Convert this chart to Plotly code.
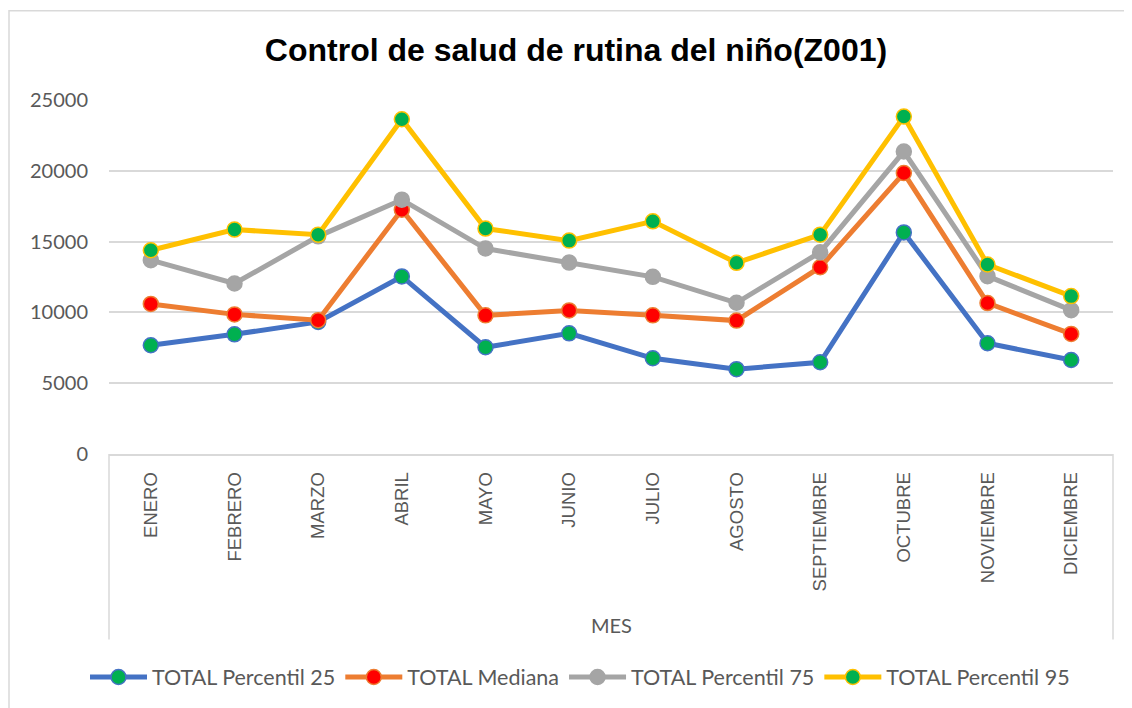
import plotly.graph_objects as go

meses = ["ENERO", "FEBRERO", "MARZO", "ABRIL", "MAYO", "JUNIO", "JULIO",
         "AGOSTO", "SEPTIEMBRE", "OCTUBRE", "NOVIEMBRE", "DICIEMBRE"]
p25 = [7680, 8450, 9330, 12540, 7540, 8520, 6760, 5990, 6480, 15650, 7820, 6640]
mediana = [10600, 9860, 9450, 17250, 9790, 10140, 9790, 9420, 13190, 19840, 10660, 8480]
p75 = [13690, 12040, 15370, 17960, 14510, 13520, 12510, 10680, 14250, 21360, 12560, 10160]
p95 = [14390, 15850, 15490, 23640, 15920, 15070, 16430, 13500, 15490, 23830, 13380, 11150]

series = [
    ("TOTAL Percentil 25", p25, "#4472C4", "#00B050"),
    ("TOTAL Mediana", mediana, "#ED7D31", "#FF0000"),
    ("TOTAL Percentil 75", p75, "#A5A5A5", "#A5A5A5"),
    ("TOTAL Percentil 95", p95, "#FFC000", "#00B050"),
]

fig = go.Figure()
for name, vals, lc, mc in series:
    fig.add_trace(go.Scatter(
        x=meses, y=vals, name=name, mode="lines+markers",
        line=dict(color=lc, width=5),
        marker=dict(size=15, color=mc, line=dict(color=lc, width=1.5)),
    ))

# page body has an 8px margin; work in screen pixels and convert
OFF = 8
SW, SH = 1132, 708
W, H = SW - OFF, SH - OFF
PL, PR, PT, PB = 109, 1113, 100, 455  # plot area in screen px
L, R, T, B = PL - OFF, W - (PR - OFF), PT - OFF, H - (PB - OFF)
pw, ph = PR - PL, PB - PT


def px_x(p):
    return (p - PL) / pw


def px_y(p):
    return (PB - p) / ph


shapes = [
    dict(type="rect", xref="paper", yref="paper",
         x0=px_x(9), x1=px_x(1150), y0=px_y(10.5), y1=px_y(730),
         line=dict(color="#D9D9D9", width=1.5), layer="below"),
    dict(type="line", xref="paper", yref="paper",
         x0=0, x1=0, y0=0, y1=px_y(641),
         line=dict(color="#D9D9D9", width=1.5)),
    dict(type="line", xref="paper", yref="paper",
         x0=1, x1=1, y0=0, y1=px_y(641),
         line=dict(color="#D9D9D9", width=1.5)),
]

annotations = [
    dict(text="MES", xref="paper", yref="paper", x=px_x(611), y=px_y(626),
         xanchor="center", yanchor="middle", showarrow=False,
         font=dict(family="Lato, Carlito, Calibri, sans-serif", size=20, color="#595959")),
]

fig.update_layout(
    width=W, height=H,
    margin=dict(l=L, r=R, t=T, b=B),
    paper_bgcolor="white", plot_bgcolor="white",
    title=dict(text="<b>Control de salud de rutina del niño(Z001)</b>",
               x=px_x(576), xref="paper", xanchor="center",
               y=1 - (50 - OFF) / H, yanchor="middle",
               font=dict(family="Liberation Sans, Arial", size=32, color="#000000")),
    font=dict(family="Lato, Carlito, Calibri, sans-serif", color="#595959", size=20),
    xaxis=dict(
        type="category", tickangle=-90, showgrid=False,
        showline=True, linecolor="#D9D9D9", linewidth=1.5,
        ticks="", ticklabelstandoff=9,
        tickfont=dict(size=18.5, color="#595959", family="Liberation Sans, Arial"),
        range=[-0.5, 11.5], fixedrange=True,
    ),
    yaxis=dict(
        range=[0, 25000], dtick=5000, tickformat="d",
        showgrid=True, gridcolor="#D9D9D9", gridwidth=1.5,
        zeroline=False, showline=False, ticks="", ticklabelstandoff=20,
        tickfont=dict(size=20, color="#595959"),
    ),
    legend=dict(orientation="h", x=px_x(580), xanchor="center", y=px_y(677), yanchor="middle",
                font=dict(size=21.5, color="#595959"), itemwidth=57,
                traceorder="normal", tracegroupgap=0),
    shapes=shapes,
    annotations=annotations,
    showlegend=True,
)

fig.write_html("out.html")
